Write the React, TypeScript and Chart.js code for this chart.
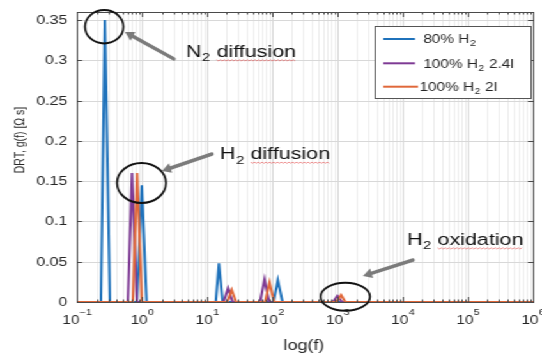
import React, { useEffect, useRef } from "react";
import { Chart, registerables } from "chart.js";

Chart.register(...registerables);

// ---- data ----
const blueFreq = [0.1, 0.233, 0.268, 0.32, 0.83, 0.99, 1.17, 13.5, 15.1, 17.2, 104, 121, 143, 1e6];
const blueVal = [0, 0, 0.35, 0, 0, 0.145, 0, 0, 0.048, 0, 0, 0.027, 0, 0];
const purpleFreq = [0.1, 0.604, 0.7, 0.83, 17.8, 20.8, 24.5, 64.6, 75.7, 88.7, 847, 993, 1164, 1e6];
const purpleVal = [0, 0, 0.16, 0, 0, 0.017, 0, 0, 0.028, 0, 0, 0.0074, 0, 0];
const orangeFreq = [0.1, 0.72, 0.837, 0.99, 20.2, 23.7, 27.7, 77.1, 90.4, 105.9, 959, 1132, 1315, 1e6];
const orangeVal = [0, 0, 0.16, 0, 0, 0.015, 0, 0, 0.024, 0, 0, 0.0087, 0, 0];

const seriesMain = ["80% H", "100% H", "100% H"];
const seriesSub = ["2", "2", "2"];
const seriesTail = ["", " 2.4l", " 2l"];
const seriesColors = ["#1f72bb", "#7e3a94", "#e0683a"];

const xTickValues = [0.1, 1, 10, 100, 1000, 10000, 100000, 1000000];
const xTickExponents = ["\u22121", "0", "1", "2", "3", "4", "5", "6"];
const minorMultipliers = [2, 3, 4, 5, 6, 7, 8, 9];
const yTickValues = [0, 0.05, 0.1, 0.15, 0.2, 0.25, 0.3, 0.35];
const yTickLabels = ["0", "0.05", "0.1", "0.15", "0.2", "0.25", "0.3", "0.35"];

const xTitle = "log(f)";
const yTitle = "DRT, g(f) [\u03A9 s]";
const annotMain = ["N", "H", "H"];
const annotSub = ["2", "2", "2"];
const annotTail = [" diffusion", " diffusion", " oxidation"];

// ---- layout (page px; canvas is stretched horizontally by S) ----
const CW = 424;
const CH = 354;
const S = 542 / CW;
const FONT = '"Liberation Sans", Arial, Helvetica, sans-serif';
const TXT = "#262626";

const annotPos = [
  { tx: 186, base: 57, ex: 104.2, ey: 26.7, rx: 19.2, ry: 16.7, hx: 125, hy: 32, ttx: 174, tty: 59 },
  { tx: 220, base: 159.3, ex: 141.5, ey: 183, rx: 24.5, ry: 20, hx: 162, hy: 171, ttx: 212, tty: 154 },
  { tx: 407, base: 245, ex: 345.3, ey: 296.7, rx: 24.7, ry: 14, hx: 363, hy: 276, ttx: 413, tty: 260 },
];

function drawSubLabel(
  ctx: CanvasRenderingContext2D,
  x: number,
  base: number,
  main: string,
  sub: string,
  tail: string,
  size: number,
  underline: boolean
) {
  ctx.textAlign = "left";
  ctx.textBaseline = "alphabetic";
  ctx.font = `${size}px ${FONT}`;
  ctx.fillText(main, x, base);
  let cx = x + ctx.measureText(main).width;
  const subSize = size * 0.68;
  ctx.font = `${subSize}px ${FONT}`;
  ctx.fillText(sub, cx + 0.5, base + size * 0.25);
  cx += ctx.measureText(sub).width + 0.8;
  ctx.font = `${size}px ${FONT}`;
  ctx.fillText(tail, cx, base);
  if (underline && tail.trim()) {
    const sp = ctx.measureText(" ").width;
    const wx0 = cx + sp;
    const wx1 = cx + ctx.measureText(tail).width;
    ctx.save();
    ctx.strokeStyle = "rgba(225,70,70,0.55)";
    ctx.lineWidth = 1;
    ctx.beginPath();
    const yy = base + 3.4;
    let up = true;
    for (let xx = wx0; xx <= wx1; xx += 1.5) {
      const py = yy + (up ? -0.6 : 0.6);
      if (xx === wx0) ctx.moveTo(xx, py);
      else ctx.lineTo(xx, py);
      up = !up;
    }
    ctx.stroke();
    ctx.restore();
  }
}

function drawArrow(ctx: CanvasRenderingContext2D, hx: number, hy: number, tx: number, ty: number) {
  const ang = Math.atan2(hy - ty, hx - tx);
  const L = 9;
  const W = 5;
  ctx.save();
  ctx.strokeStyle = "#7b7b7b";
  ctx.fillStyle = "#7b7b7b";
  ctx.lineWidth = 3.5;
  ctx.lineCap = "round";
  ctx.beginPath();
  ctx.moveTo(tx, ty);
  ctx.lineTo(hx - Math.cos(ang) * (L - 2), hy - Math.sin(ang) * (L - 2));
  ctx.stroke();
  ctx.beginPath();
  ctx.moveTo(hx, hy);
  ctx.lineTo(hx - Math.cos(ang) * L - Math.sin(ang) * W, hy - Math.sin(ang) * L + Math.cos(ang) * W);
  ctx.lineTo(hx - Math.cos(ang) * L + Math.sin(ang) * W, hy - Math.sin(ang) * L - Math.cos(ang) * W);
  ctx.closePath();
  ctx.fill();
  ctx.restore();
}

const decor = {
  id: "decor",
  beforeDatasetsDraw(chart: any) {
    const { ctx, chartArea: a, scales } = chart;
    const x = scales.x;
    const y = scales.y;
    ctx.save();
    ctx.lineWidth = 1;
    ctx.strokeStyle = "#ececec";
    for (let i = 0; i < xTickValues.length - 1; i++) {
      for (const m of minorMultipliers) {
        const X = Math.round(x.getPixelForValue(xTickValues[i] * m)) + 0.5;
        ctx.beginPath();
        ctx.moveTo(X, a.top);
        ctx.lineTo(X, a.bottom);
        ctx.stroke();
      }
    }
    ctx.strokeStyle = "#d8d8d8";
    for (const v of xTickValues) {
      const X = Math.round(x.getPixelForValue(v)) + 0.5;
      ctx.beginPath();
      ctx.moveTo(X, a.top);
      ctx.lineTo(X, a.bottom);
      ctx.stroke();
    }
    for (const v of yTickValues) {
      const Y = Math.round(y.getPixelForValue(v)) + 0.5;
      ctx.beginPath();
      ctx.moveTo(a.left, Y);
      ctx.lineTo(a.right, Y);
      ctx.stroke();
    }
    ctx.restore();
  },
  afterDatasetsDraw(chart: any) {
    const { ctx, chartArea: a, scales } = chart;
    const x = scales.x;
    const y = scales.y;
    ctx.save();
    // border
    ctx.strokeStyle = "#4a4a4a";
    ctx.lineWidth = 1;
    ctx.strokeRect(Math.round(a.left) + 0.5, Math.round(a.top) + 0.5, Math.round(a.right - a.left), Math.round(a.bottom - a.top));
    // x ticks (inward)
    ctx.beginPath();
    for (let i = 0; i < xTickValues.length; i++) {
      const X = Math.round(x.getPixelForValue(xTickValues[i])) + 0.5;
      ctx.moveTo(X, a.bottom);
      ctx.lineTo(X, a.bottom - 5);
      ctx.moveTo(X, a.top);
      ctx.lineTo(X, a.top + 5);
      if (i < xTickValues.length - 1) {
        for (const m of minorMultipliers) {
          const Xm = Math.round(x.getPixelForValue(xTickValues[i] * m)) + 0.5;
          ctx.moveTo(Xm, a.bottom);
          ctx.lineTo(Xm, a.bottom - 2.5);
          ctx.moveTo(Xm, a.top);
          ctx.lineTo(Xm, a.top + 2.5);
        }
      }
    }
    for (const v of yTickValues) {
      const Y = Math.round(y.getPixelForValue(v)) + 0.5;
      ctx.moveTo(a.left, Y);
      ctx.lineTo(a.left + 4, Y);
      ctx.moveTo(a.right, Y);
      ctx.lineTo(a.right - 4, Y);
    }
    ctx.stroke();

    // y tick labels
    ctx.fillStyle = TXT;
    ctx.font = `12.5px ${FONT}`;
    ctx.textAlign = "right";
    ctx.textBaseline = "middle";
    yTickValues.forEach((v, i) => {
      ctx.fillText(yTickLabels[i], a.left - 7.5, y.getPixelForValue(v) + 0.5);
    });

    // x tick labels 10^n
    ctx.textAlign = "left";
    ctx.textBaseline = "alphabetic";
    xTickValues.forEach((v, i) => {
      const X = x.getPixelForValue(v);
      ctx.font = `12px ${FONT}`;
      const wb = ctx.measureText("10").width;
      ctx.font = `8.5px ${FONT}`;
      const we = ctx.measureText(xTickExponents[i]).width;
      const start = X - (wb + we) / 2;
      ctx.font = `12px ${FONT}`;
      ctx.fillText("10", start, 323.5);
      ctx.font = `8.5px ${FONT}`;
      ctx.fillText(xTickExponents[i], start + wb + 0.3, 314.5);
    });

    // axis titles
    ctx.font = `14px ${FONT}`;
    ctx.textAlign = "center";
    ctx.fillText(xTitle, 304 / S, 349.5);
    ctx.save();
    ctx.translate(20.5 / S, 140);
    ctx.rotate(-Math.PI / 2);
    ctx.font = `10.5px ${FONT}`;
    ctx.textBaseline = "middle";
    ctx.fillText(yTitle, 0, 0);
    ctx.restore();

    // legend
    const lx0 = 375 / S;
    const lx1 = 531 / S;
    ctx.fillStyle = "#ffffff";
    ctx.fillRect(lx0, 26, lx1 - lx0, 72);
    ctx.strokeStyle = "#555555";
    ctx.lineWidth = 1;
    ctx.strokeRect(Math.round(lx0) + 0.5, 26.5, Math.round(lx1 - lx0), 72);
    const rowY = [39, 63.3, 86.7];
    const lineEnd = [415, 415, 418];
    const textStart = [423.3, 423.3, 419.5];
    for (let i = 0; i < 3; i++) {
      ctx.strokeStyle = seriesColors[i];
      ctx.lineWidth = 2;
      ctx.beginPath();
      ctx.moveTo(383.3 / S, rowY[i]);
      ctx.lineTo(lineEnd[i] / S, rowY[i]);
      ctx.stroke();
      ctx.fillStyle = TXT;
      drawSubLabel(ctx, textStart[i] / S, rowY[i] + 4.3, seriesMain[i], seriesSub[i], seriesTail[i], 12, false);
    }

    // annotations: ellipses and arrows drawn in page coordinates
    ctx.save();
    ctx.scale(1 / S, 1);
    for (const p of annotPos) {
      ctx.strokeStyle = "#111111";
      ctx.lineWidth = 2;
      ctx.beginPath();
      ctx.ellipse(p.ex, p.ey, p.rx, p.ry, 0, 0, Math.PI * 2);
      ctx.stroke();
      drawArrow(ctx, p.hx, p.hy, p.ttx, p.tty);
    }
    ctx.restore();
    ctx.fillStyle = "#111111";
    annotPos.forEach((p, i) => {
      drawSubLabel(ctx, p.tx / S, p.base, annotMain[i], annotSub[i], annotTail[i], 16.8, true);
    });
    ctx.restore();
  },
};

export default function App() {
  const ref = useRef<HTMLCanvasElement>(null);
  useEffect(() => {
    const mk = (f: number[], v: number[]) => f.map((fx, i) => ({ x: fx, y: v[i] }));
    const chart = new Chart(ref.current as HTMLCanvasElement, {
      type: "line",
      data: {
        datasets: [
          { label: "80% H2", data: mk(blueFreq, blueVal), borderColor: seriesColors[0], borderWidth: 2, pointRadius: 0, tension: 0, order: 2 },
          { label: "100% H2 2.4l", data: mk(purpleFreq, purpleVal), borderColor: seriesColors[1], borderWidth: 2, pointRadius: 0, tension: 0, order: 1 },
          { label: "100% H2 2l", data: mk(orangeFreq, orangeVal), borderColor: seriesColors[2], borderWidth: 2, pointRadius: 0, tension: 0, order: 0 },
        ],
      },
      options: {
        animation: false,
        responsive: false,
        maintainAspectRatio: false,
        events: [],
        layout: { padding: { left: 77 / S, right: CW - 533 / S, top: 12, bottom: CH - 302 } },
        plugins: { legend: { display: false }, tooltip: { enabled: false } },
        scales: {
          x: { type: "logarithmic", min: 0.1, max: 1e6, display: false },
          y: { type: "linear", min: 0, max: 0.36, display: false },
        },
      } as any,
      plugins: [decor as any],
    });
    return () => chart.destroy();
  }, []);
  return (
    <div
      style={{
        position: "fixed",
        left: 0,
        top: 0,
        width: CW,
        height: CH,
        transform: `scaleX(${S})`,
        transformOrigin: "0 0",
        background: "#ffffff",
      }}
    >
      <canvas ref={ref} width={CW} height={CH} style={{ display: "block" }} />
    </div>
  );
}
